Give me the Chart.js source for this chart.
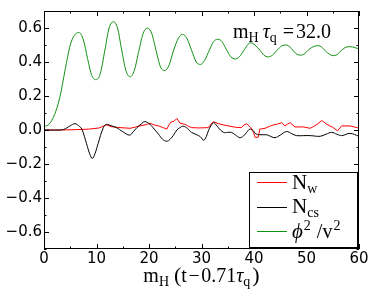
<!DOCTYPE html>
<html>
<head>
<meta charset="utf-8">
<script src="https://cdn.jsdelivr.net/npm/chart.js@4"></script>
<style>
  html, body { margin: 0; padding: 0; background: #fff; }
  canvas { display: block; }
</style>
</head>
<body>
<canvas id="chart" width="374" height="296"></canvas>
<script>
// tick labels
const xTicks = [0, 10, 20, 30, 40, 50, 60];
const yTicks = [-0.6, -0.4, -0.2, 0.0, 0.2, 0.4, 0.6];

// phi^2 / v^2 (green)
const tPhi = [0, 1, 2, 3, 4, 5, 6.0, 6.7, 7.5, 8.3, 9.1, 9.9, 10.7, 11.6, 12.4, 13.2, 14.0, 14.8, 15.6, 16.4,
  17.2, 18.1, 18.9, 19.7, 20.5, 21.4, 22.2, 23.0, 23.8, 24.7, 25.6, 26.4, 27.2, 28.1, 29.0, 29.8, 30.6, 31.5,
  32.3, 33.1, 33.9, 34.8, 35.6, 36.4, 37.2, 38.1, 38.9, 39.4, 40.2, 41.1, 41.9, 42.7, 43.5, 44.4, 45.3, 46.1,
  46.8, 47.5, 48.2, 48.9, 49.7, 50.5, 51.3, 52.0, 52.8, 53.6, 54.4, 55.1, 55.9, 56.7, 57.5, 58.3, 59.2, 60];
const phi2 = [0.02, 0.035, 0.09, 0.19, 0.35, 0.50, 0.565, 0.573, 0.53, 0.42, 0.32, 0.296, 0.33, 0.47, 0.60, 0.637,
  0.60, 0.47, 0.35, 0.313, 0.35, 0.47, 0.57, 0.599, 0.57, 0.46, 0.37, 0.35, 0.38, 0.47, 0.54, 0.563, 0.54, 0.47,
  0.40, 0.386, 0.41, 0.47, 0.52, 0.534, 0.52, 0.47, 0.43, 0.418, 0.43, 0.47, 0.505, 0.513, 0.50, 0.47, 0.44, 0.43,
  0.44, 0.47, 0.495, 0.50, 0.49, 0.465, 0.445, 0.44, 0.45, 0.475, 0.49, 0.496, 0.49, 0.465, 0.445, 0.437, 0.445,
  0.47, 0.487, 0.49, 0.485, 0.477];

// N_cs (black)
const tNcs = [0, 2, 3.7, 5.0, 5.9, 6.6, 7.2, 8.1, 8.7, 9.2, 9.7, 10.3, 11.3, 11.9, 12.8, 13.8, 15.0, 16.3, 17.0,
  17.7, 18.5, 19.2, 20.2, 21.0, 21.8, 22.6, 23.4, 24.0, 24.6, 25.3, 25.9, 26.5, 27.3, 28.1, 29.1, 29.8, 30.4, 30.9,
  31.3, 31.8, 32.3, 32.8, 33.2, 34.2, 35.0, 35.7, 36.5, 37.3, 38.0, 38.6, 39.2, 39.9, 40.2, 41.1, 42.4, 43.2, 44.0,
  45.0, 46.2, 47.2, 48.1, 49.5, 50.7, 52.6, 53.7, 54.8, 55.8, 56.7, 58.3, 60];
const nCs = [0, 0, 0.003, 0.025, 0.037, 0.025, 0.005, -0.08, -0.14, -0.167, -0.14, -0.08, 0.014, 0.033, 0.025,
  0.014, -0.01, -0.03, -0.01, 0.014, 0.035, 0.049, 0.033, 0.005, -0.024, -0.055, -0.066, -0.055, -0.033, 0.0,
  0.014, 0.022, 0.01, -0.014, -0.028, -0.04, -0.06, -0.04, -0.005, 0.025, 0.043, 0.03, 0.014, -0.014, -0.014,
  -0.014, -0.03, -0.045, -0.035, -0.014, 0.005, -0.005, -0.02, -0.028, -0.028, -0.038, -0.045, -0.03, -0.009,
  -0.022, -0.033, -0.033, -0.033, -0.037, -0.025, -0.014, -0.025, -0.033, -0.02, -0.037];

// N_w (red)
const tNw = [0, 3, 6, 8.5, 10.5, 11.9, 12.8, 14, 16.4, 17.5, 18.3, 19.6, 20.2, 21.0, 21.8, 22.6, 23.4, 23.8, 24.2,
  24.8, 25.3, 25.9, 26.9, 27.5, 28.1, 29.5, 31.3, 31.8, 32.3, 33.2, 34.2, 35.1, 36.5, 37.6, 38.1, 38.6, 39.4, 39.9,
  40.2, 40.8, 41.1, 42.1, 43.0, 43.7, 44.5, 45.3, 45.9, 46.4, 46.9, 47.8, 49.4, 50.7, 51.4, 52.0, 52.9, 53.9, 55.1,
  55.9, 56.7, 58.3, 59.6, 60];
const nW = [0, 0, 0.002, 0.005, 0.012, 0.03, 0.02, 0.015, 0.01, 0.018, 0.024, 0.033, 0.04, 0.03, 0.024, 0.015,
  0.005, 0.03, 0.047, 0.052, 0.068, 0.04, 0.033, 0.022, 0.014, 0.012, 0.014, 0.035, 0.049, 0.037, 0.03, 0.024,
  0.016, 0.014, 0.03, 0.037, 0.014, -0.014, -0.043, -0.043, 0.005, 0.01, 0.022, 0.03, 0.035, 0.043, 0.024, 0.035,
  0.043, 0.018, 0.018, 0.01, 0.022, 0.033, 0.056, 0.033, 0.014, -0.005, 0.024, 0.024, 0.014, 0.012];

const pts = (xs, ys) => xs.map((x, i) => ({ x: x, y: ys[i] }));

const GREEN = '#109010';
const SERIF = '"Liberation Serif", "DejaVu Serif", serif';
const tickFont = { family: '"DejaVu Sans", sans-serif', size: 15 };

function runFont(r) {
  return (r.it ? 'italic ' : '') + (r.size || 20) + 'px ' + SERIF;
}
function runsWidth(ctx, runs) {
  let w = 0;
  for (const r of runs) {
    ctx.font = runFont(r);
    w += (r.gap || 0) + ctx.measureText(r.t).width;
  }
  return w;
}
function drawRuns(ctx, x, y, runs, align) {
  const w = runsWidth(ctx, runs);
  let cx = align === 'center' ? x - w / 2 : align === 'right' ? x - w : x;
  ctx.textAlign = 'left';
  ctx.textBaseline = 'alphabetic';
  ctx.fillStyle = '#000';
  for (const r of runs) {
    cx += r.gap || 0;
    ctx.font = runFont(r);
    ctx.fillText(r.t, cx, y + (r.dy || 0));
    cx += ctx.measureText(r.t).width;
  }
}

const xLabel = [
  { t: 'm' }, { t: 'H', size: 14, dy: 4 },
  { t: '(', size: 22, gap: 5 }, { t: 't' }, { t: '\u2212', gap: 1.5 }, { t: '0.71', gap: 1.5 },
  { t: '\u03c4', it: true }, { t: 'q', size: 14, dy: 4 }, { t: ')', size: 22, gap: 2 }
];
const note = [
  { t: 'm' }, { t: 'H', size: 14, dy: 4 }, { t: '\u03c4', it: true, gap: 4 }, { t: 'q', size: 14, dy: 4 },
  { t: '=', gap: 6 }, { t: '32.0', gap: 2 }
];
const legendItems = [
  { color: '#ff0000', runs: [{ t: 'N', size: 21 }, { t: 'w', size: 14, dy: 4 }] },
  { color: '#000000', runs: [{ t: 'N', size: 21 }, { t: 'cs', size: 14, dy: 4 }] },
  { color: GREEN, runs: [{ t: '\u03d5', it: true, size: 21 }, { t: '2', size: 14, dy: -8, gap: 1 },
    { t: '/', gap: 6 }, { t: 'v' }, { t: '2', size: 14, dy: -8, gap: 1 }] }
];

const decorations = {
  id: 'decorations',
  afterDraw(chart) {
    const ctx = chart.ctx;
    const ca = chart.chartArea;
    const xs = chart.scales.x, ys = chart.scales.y;
    ctx.save();
    ctx.strokeStyle = '#000';
    ctx.lineWidth = 1;
    // frame
    ctx.strokeRect(Math.round(ca.left) + 0.5, Math.round(ca.top) + 0.5,
      Math.round(ca.right - ca.left) - 1, Math.round(ca.bottom - ca.top) - 1);
    // inward ticks, all sides
    ctx.beginPath();
    for (let v = xs.min; v <= xs.max + 1e-9; v += 5) {
      const len = Math.abs(v % 10) < 1e-9 ? 5 : 2.5;
      const px = Math.round(xs.getPixelForValue(v)) + 0.5;
      ctx.moveTo(px, ca.bottom); ctx.lineTo(px, ca.bottom - len);
      ctx.moveTo(px, ca.top); ctx.lineTo(px, ca.top + len);
    }
    for (let k = -7; k <= 7; k++) {
      const v = k / 10;
      const len = k % 2 === 0 ? 5 : 2.5;
      const py = Math.round(ys.getPixelForValue(v)) + 0.5;
      ctx.moveTo(ca.left, py); ctx.lineTo(ca.left + len, py);
      ctx.moveTo(ca.right, py); ctx.lineTo(ca.right - len, py);
    }
    ctx.stroke();

    // annotation
    drawRuns(ctx, ca.right - 126, ca.top + 27, note, 'left');
    // x axis title
    drawRuns(ctx, (ca.left + ca.right) / 2, 282, xLabel, 'center');

    // legend
    const lx = ca.right - 110, ly = ca.bottom - 77;
    ctx.fillStyle = '#fff';
    ctx.fillRect(lx, ly, 108, 75);
    ctx.strokeStyle = '#000';
    ctx.strokeRect(Math.round(lx) + 0.5, Math.round(ly) + 0.5, 108, 75);
    legendItems.forEach((it, i) => {
      const yy = ly + 10 + i * 24.5;
      ctx.strokeStyle = it.color;
      ctx.lineWidth = 1;
      ctx.beginPath();
      ctx.moveTo(lx + 8, Math.round(yy) + 0.5);
      ctx.lineTo(lx + 38, Math.round(yy) + 0.5);
      ctx.stroke();
      drawRuns(ctx, lx + 43, yy + 6.5, it.runs, 'left');
    });
    ctx.restore();
  }
};

new Chart(document.getElementById('chart'), {
  type: 'line',
  data: {
    datasets: [
      { label: 'N_w', data: pts(tNw, nW), borderColor: '#ff0000', borderWidth: 1, pointRadius: 0, tension: 0, order: 3 },
      { label: 'N_cs', data: pts(tNcs, nCs), borderColor: '#000000', borderWidth: 1, pointRadius: 0, tension: 0.4, order: 2 },
      { label: 'phi^2/v^2', data: pts(tPhi, phi2), borderColor: GREEN, borderWidth: 1, pointRadius: 0,
        cubicInterpolationMode: 'monotone', order: 1 }
    ]
  },
  options: {
    responsive: false,
    devicePixelRatio: 1,
    animation: false,
    layout: { padding: { left: 0, right: 15, top: 5, bottom: 0 } },
    plugins: { legend: { display: false }, tooltip: { enabled: false } },
    scales: {
      x: {
        type: 'linear', min: 0, max: 60,
        grid: { display: false, drawTicks: false },
        border: { display: false },
        ticks: { font: tickFont, color: '#000', padding: 1, maxRotation: 0, autoSkip: false },
        afterBuildTicks: s => { s.ticks = xTicks.map(v => ({ value: v })); },
        afterFit: s => { s.height = 47; }
      },
      y: {
        type: 'linear', min: -0.7, max: 0.7,
        grid: { display: false, drawTicks: false },
        border: { display: false },
        ticks: {
          font: tickFont, color: '#000', padding: 2, autoSkip: false,
          callback: v => v.toFixed(1).replace('-', '\u2212')
        },
        afterBuildTicks: s => { s.ticks = yTicks.map(v => ({ value: v })); },
        afterFit: s => { s.width = 44; }
      }
    }
  },
  plugins: [decorations]
});
</script>
</body>
</html>
